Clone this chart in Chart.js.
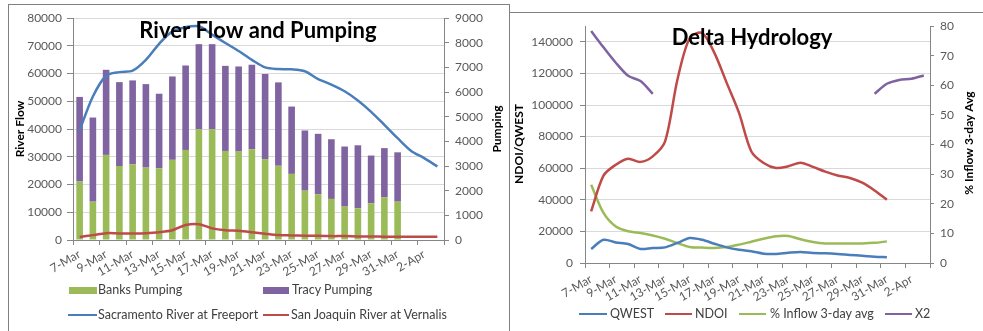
<!DOCTYPE html>
<html>
<head>
<meta charset="utf-8">
<script src="https://cdn.jsdelivr.net/npm/chart.js@4.4.1/dist/chart.umd.min.js"></script>
<style>
  html, body { margin: 0; padding: 0; background: #fff; width: 983px; height: 331px; overflow: hidden; }
  body { position: relative; font-family: Lato, "Liberation Sans", sans-serif; }
  .panel { position: absolute; background: #fff; border: 1px solid #808080; box-sizing: border-box; }
  #panelFlow { left: 8px; top: 4px; width: 502px; height: 360px; }
  #panelDelta { left: 509px; top: 12px; width: 490px; height: 360px; }
  canvas { position: absolute; }
  #flowChart { left: 0; top: 0; }
  #deltaChart { left: 509px; top: 0; }
  .leg { position: absolute; font-size: 12.5px; color: #404040; white-space: nowrap; line-height: 15px; }
  .sw { position: absolute; }
</style>
</head>
<body>
<div class="panel" id="panelFlow"></div>
<canvas id="flowChart" width="509" height="331"></canvas>
<div id="flowLegend"></div>
<div class="panel" id="panelDelta"></div>
<canvas id="deltaChart" width="474" height="331"></canvas>
<div id="deltaLegend"></div>

<script>
// ---- shared daily categories ----
const days = ['7-Mar','8-Mar','9-Mar','10-Mar','11-Mar','12-Mar','13-Mar','14-Mar','15-Mar','16-Mar',
  '17-Mar','18-Mar','19-Mar','20-Mar','21-Mar','22-Mar','23-Mar','24-Mar','25-Mar','26-Mar',
  '27-Mar','28-Mar','29-Mar','30-Mar','31-Mar','1-Apr','2-Apr','3-Apr'];

// ---- River Flow and Pumping (cfs) ----
const banksPumping = [2370,1555,3450,3000,3070,2935,2910,3250,3650,4490,4490,3610,3585,
  3680,3280,3010,2680,2000,1855,1665,1355,1285,1490,1735,1555];
const tracyPumping = [3430,3410,3450,3400,3400,3385,3020,3380,3425,3450,3450,3450,3450,
  3425,3450,3380,2730,2440,2450,2420,2435,2555,1935,1990,2000];
const sacramentoFreeport = [39500,51700,59200,60500,61000,64900,70700,75200,76700,77000,
  74000,71000,68100,64900,62200,61600,61500,60800,58000,56000,53600,50300,46200,41500,
  36700,32200,29500,26500];
const sanJoaquinVernalis = [1060,1760,2460,2360,2360,2460,2820,3520,5400,5700,4200,3520,
  3310,2820,2250,1760,1650,1550,1550,1400,1400,1300,1300,1200,1200,1200,1200,1200];

// ---- Delta Hydrology ----
const qwest = [8900,14700,13000,12000,8900,9500,9900,12700,15800,14700,12200,9900,8400,
  7400,5900,5700,6500,7000,6300,6100,5700,5100,4600,4000,3600];
const ndoi = [32700,55300,62200,66000,64000,67500,77000,116000,142400,145600,133000,114000,
  95000,70600,63300,60100,61200,63500,60800,57800,55400,53800,50800,45900,40000];
const inflowPct3Day = [26.4,16.9,12.3,10.7,10.1,9.3,8.2,6.7,5.4,5.2,5.1,5.4,6.2,7.2,8.2,
  9.0,9.1,8.0,7.1,6.6,6.6,6.6,6.6,6.8,7.3];
const x2 = [78.3,72.8,67.6,63.2,61.4,57.1,null,null,null,null,null,null,null,null,null,
  null,null,null,null,null,null,null,null,57.1,60.5,61.8,62.2,63.3];

// ---- axis ranges and tick values ----
const flowRange = [0, 80000];
const flowTickValues = [0,10000,20000,30000,40000,50000,60000,70000,80000];
const pumpRange = [0, 9000];
const pumpTickValues = [0,1000,2000,3000,4000,5000,6000,7000,8000,9000];
const ndoiRange = [0, 150000];
const ndoiTickValues = [0,20000,40000,60000,80000,100000,120000,140000];
const pctRange = [0, 80];
const pctTickValues = [0,10,20,30,40,50,60,70,80];

// ---- styling ----
const BLUE = '#4A7EBB', RED = '#BE4B48', GREEN = '#9BBB59', PURPLE = '#7F63A1';
const AXIS = '#868686', GRID = '#D9D9D9', TEXT = '#595959';
const FONT = 'Lato, "Liberation Sans", sans-serif';

const overlayText = {
  id: 'overlayText',
  afterDraw(chart, args, opts) {
    const ctx = chart.ctx;
    (opts.items || []).forEach(t => {
      ctx.save();
      ctx.translate(t.x, t.y);
      ctx.rotate(t.rot || 0);
      ctx.font = t.font;
      ctx.fillStyle = t.color || '#000';
      ctx.textAlign = 'center';
      ctx.textBaseline = t.baseline || 'middle';
      ctx.fillText(t.text, 0, 0);
      ctx.restore();
    });
  }
};

function categoryAxis(height, rotation, pad) {
  return {
    type: 'category',
    offset: true,
    stacked: true,
    afterFit: s => { s.height = height; },
    grid: {
      display: true, drawOnChartArea: false, drawTicks: true, tickLength: 5, offset: true,
      tickColor: c => (c.index === undefined || c.index % 2 === 0) ? AXIS : 'rgba(0,0,0,0)'
    },
    border: { display: true, color: AXIS, width: 1 },
    ticks: {
      autoSkip: false, maxRotation: rotation, minRotation: rotation, padding: pad,
      color: TEXT, font: { family: FONT, size: 12 },
      callback: function (v, i) { return i % 2 === 0 ? this.getLabelForValue(v) : ''; }
    }
  };
}

function valueAxis(pos, range, tickValues, width, gridOn, tickLen, pad) {
  return {
    type: 'linear', position: pos, min: range[0], max: range[1],
    afterFit: s => { s.width = width; },
    afterBuildTicks: s => { s.ticks = tickValues.map(v => ({ value: v })); },
    grid: { display: true, drawOnChartArea: gridOn, color: GRID, tickColor: AXIS, tickLength: tickLen, lineWidth: 1 },
    border: { display: true, color: AXIS, width: 1 },
    ticks: { padding: pad, color: TEXT, font: { family: FONT, size: 12 }, callback: v => String(v) }
  };
}

function lineSet(label, data, color, axis) {
  return { type: 'line', label, data, borderColor: color, backgroundColor: color, borderWidth: 2.5,
    pointRadius: 0, tension: 0.3, yAxisID: axis, spanGaps: false, order: 1 };
}

Chart.defaults.font.family = FONT;

// ---- River Flow and Pumping ----
const flowChart = new Chart(document.getElementById('flowChart'), {
  data: {
    labels: days,
    datasets: [
      { type: 'bar', label: 'Banks Pumping', data: banksPumping, backgroundColor: GREEN,
        yAxisID: 'y2', stack: 'pump', barPercentage: 0.5, categoryPercentage: 1, order: 2 },
      { type: 'bar', label: 'Tracy Pumping', data: tracyPumping, backgroundColor: '#8064A2',
        yAxisID: 'y2', stack: 'pump', barPercentage: 0.5, categoryPercentage: 1, order: 2 },
      lineSet('Sacramento River at Freeport', sacramentoFreeport, BLUE, 'y'),
      lineSet('San Joaquin River at Vernalis', sanJoaquinVernalis, RED, 'y')
    ]
  },
  options: {
    responsive: false, animation: false, events: [],
    layout: { padding: { top: 18, left: 0, right: 0, bottom: 0 } },
    scales: {
      x: categoryAxis(91, 30, 2),
      y: valueAxis('left', flowRange, flowTickValues, 73, true, 6, 5),
      y2: Object.assign(valueAxis('right', pumpRange, pumpTickValues, 65, false, 5, 6), { stacked: true })
    },
    plugins: {
      legend: { display: false }, tooltip: { enabled: false },
      overlayText: { items: [
        { text: 'River Flow and Pumping', x: 258, y: 38, baseline: 'alphabetic', font: 'bold 22px ' + FONT, color: '#000' },
        { text: 'River Flow', x: 20, y: 129, rot: -Math.PI / 2, font: 'bold 12px ' + FONT, color: '#000' },
        { text: 'Pumping', x: 497, y: 129, rot: -Math.PI / 2, font: 'bold 12px ' + FONT, color: '#000' }
      ] }
    }
  },
  plugins: [overlayText]
});

// ---- Delta Hydrology ----
const deltaChart = new Chart(document.getElementById('deltaChart'), {
  data: {
    labels: days,
    datasets: [
      lineSet('QWEST', qwest, BLUE, 'y'),
      lineSet('NDOI', ndoi, RED, 'y'),
      lineSet('% Inflow 3-day avg', inflowPct3Day, GREEN, 'y2'),
      lineSet('X2', x2, PURPLE, 'y2')
    ]
  },
  options: {
    responsive: false, animation: false, events: [],
    layout: { padding: { top: 26, left: 0, right: 0, bottom: 0 } },
    scales: {
      x: categoryAxis(68, 30, 4),
      y: valueAxis('left', ndoiRange, ndoiTickValues, 76, true, 5, 7),
      y2: valueAxis('right', pctRange, pctTickValues, 53, false, 4, 6)
    },
    plugins: {
      legend: { display: false }, tooltip: { enabled: false },
      overlayText: { items: [
        { text: 'Delta Hydrology', x: 243, y: 45, baseline: 'alphabetic', font: 'bold 22px ' + FONT, color: '#000' },
        { text: 'NDOI/QWEST', x: 10, y: 144, rot: -Math.PI / 2, font: 'bold 12px ' + FONT, color: '#000' },
        { text: '% Inflow 3-day Avg', x: 460, y: 143, rot: -Math.PI / 2, font: 'bold 12px ' + FONT, color: '#000' }
      ] }
    }
  },
  plugins: [overlayText]
});

// ---- legends (HTML, built from the chart datasets) ----
function buildLegend(chart, holderId, slots) {
  const holder = document.getElementById(holderId);
  chart.data.datasets.forEach((ds, i) => {
    const s = slots[i];
    const sw = document.createElement('div');
    sw.className = 'sw';
    const isBar = ds.type === 'bar';
    const h = isBar ? 7 : 2.5;
    sw.style.cssText = `left:${s.sx}px;top:${s.y - h / 2}px;width:${s.sw}px;height:${h}px;background:${ds.backgroundColor}`;
    holder.appendChild(sw);
    const tx = document.createElement('div');
    tx.className = 'leg';
    tx.style.left = s.tx + 'px';
    tx.style.top = (s.y - 8) + 'px';
    tx.textContent = ds.label;
    holder.appendChild(tx);
  });
}
buildLegend(flowChart, 'flowLegend', [
  { sx: 69, sw: 28, tx: 98, y: 290 },
  { sx: 263, sw: 26, tx: 292, y: 290 },
  { sx: 68, sw: 29, tx: 98, y: 315 },
  { sx: 263, sw: 26, tx: 291, y: 315 }
]);
buildLegend(deltaChart, 'deltaLegend', [
  { sx: 579, sw: 28, tx: 610, y: 314 },
  { sx: 665, sw: 27, tx: 695, y: 314 },
  { sx: 739, sw: 27, tx: 770, y: 314 },
  { sx: 885, sw: 27, tx: 915, y: 314 }
]);
</script>
</body>
</html>
